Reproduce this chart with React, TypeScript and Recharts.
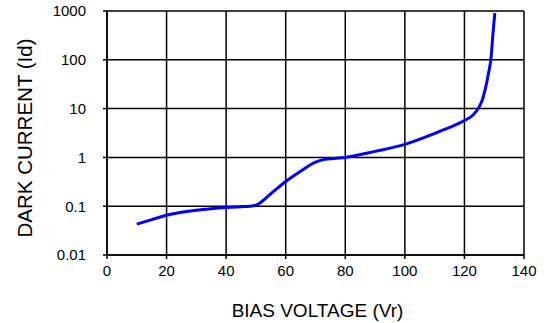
import React from "react";
import { LineChart, Line, XAxis, YAxis, CartesianGrid, Label } from "recharts";

const voltage = [10, 15, 20, 25, 30, 35, 40, 45, 48, 50, 55, 60, 65, 70, 72, 76, 80, 90, 100, 110, 115, 120, 123, 125, 126, 127, 128, 129, 129.5, 130.2];
const current = [0.043, 0.053, 0.065, 0.075, 0.083, 0.089, 0.094, 0.098, 0.1, 0.105, 0.18, 0.32, 0.52, 0.8, 0.88, 0.95, 1.0, 1.33, 1.85, 3.1, 4.1, 5.7, 7.5, 11, 15, 25, 50, 120, 300, 900];

const xTicks = [0, 20, 40, 60, 80, 100, 120, 140];
const yTicks = [0.01, 0.1, 1, 10, 100, 1000];
const yTickLabels = ["0.01", "0.1", "1", "10", "100", "1000"];

const data = voltage.map((v, i) => ({ v, id: current[i] }));

const font = "'Liberation Sans', Arial, sans-serif";

export default function App() {
  return (
    <div style={{ position: "absolute", left: 0, top: 0, width: 547, height: 323, background: "#fff" }}>
      <LineChart width={547} height={323} data={data} margin={{ top: 11, right: 23, bottom: 0, left: 0 }}>
        <CartesianGrid stroke="#000" strokeWidth={1.5} />
        <XAxis
          dataKey="v"
          type="number"
          domain={[0, 140]}
          ticks={xTicks}
          height={68}
          tickSize={4}
          tickMargin={6}
          stroke="#000"
          strokeWidth={1.5}
          tick={{ fill: "#000", fontSize: 15, fontFamily: font }}
        >
          <Label
            content={({ viewBox }: any) => (
              <text
                x={viewBox.x + viewBox.width / 2 + 2}
                y={viewBox.y + 61.5}
                textAnchor="middle"
                fontSize={19}
                fontFamily={font}
                fill="#000"
              >
                BIAS VOLTAGE (Vr)
              </text>
            )}
          />
        </XAxis>
        <YAxis
          scale="log"
          domain={[0.01, 1000]}
          ticks={yTicks}
          allowDataOverflow
          width={107}
          tickSize={4}
          tickMargin={17}
          stroke="#000"
          strokeWidth={1.5}
          tickFormatter={(val: number) => yTickLabels[yTicks.indexOf(val)] ?? String(val)}
          tick={{ fill: "#000", fontSize: 15, fontFamily: font }}
        >
          <Label
            content={({ viewBox }: any) => (
              <text
                x={32}
                y={viewBox.y + viewBox.height / 2 + 5}
                transform={`rotate(-90 32 ${viewBox.y + viewBox.height / 2 + 5})`}
                textAnchor="middle"
                fontSize={20.5}
                fontFamily={font}
                fill="#000"
              >
                DARK CURRENT (Id)
              </text>
            )}
          />
        </YAxis>
        <Line
          type="monotone"
          dataKey="id"
          stroke="#0000ff"
          strokeWidth={3}
          dot={false}
          isAnimationActive={false}
        />
      </LineChart>
    </div>
  );
}
